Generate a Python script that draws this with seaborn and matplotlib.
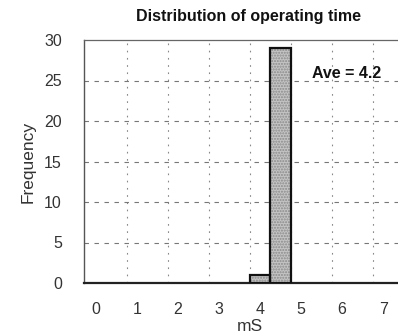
import matplotlib
matplotlib.use("Agg")
import matplotlib.pyplot as plt
import seaborn as sns

# Operating-time histogram data
bin_edges = [3.75, 4.25, 4.75]
bin_centers = [4.0, 4.5]
counts = [1, 29]
x_labels = [0, 1, 2, 3, 4, 5, 6, 7]
y_ticks = [0, 5, 10, 15, 20, 25, 30]
grid_x = [0.75, 1.75, 2.75, 3.75, 4.75, 5.75, 6.75, 7.75]
average = 4.2

sns.set_style("white")
plt.rcParams["font.family"] = ["Liberation Sans", "DejaVu Sans"]

fig = plt.figure(figsize=(3.98, 3.33), dpi=100)
W, H = 398, 333
ax = fig.add_axes([84 / W, 1 - 283 / H, (416 - 84) / W, (283 - 40) / H])
ax.set_xlim(-0.29, 7.8)
ax.set_ylim(0, 30)

# stippled fill
sns.histplot(x=bin_centers, weights=counts, bins=bin_edges, ax=ax,
             color="#c4c4c4", alpha=1, edgecolor="#8a8a8a", linewidth=0,
             hatch="......", zorder=3)
# solid outline
sns.histplot(x=bin_centers, weights=counts, bins=bin_edges, ax=ax,
             fill=False, color="#111111", linewidth=1.6, zorder=4)
for p in ax.patches[len(counts):]:
    p.set_edgecolor("#111111")

# grid
for gx in grid_x:
    ax.axvline(gx, color="#888888", lw=0.8, ls=(0, (1.5, 5)), zorder=1)
for gy in y_ticks[1:-1]:
    ax.axhline(gy, color="#777777", lw=0.8, ls=(0, (4, 5)), zorder=1)

ax.set_xticks(x_labels)
ax.set_xticklabels([str(v) for v in x_labels], fontsize=11.5, color="#333333")
ax.tick_params(axis="x", length=0, pad=14)
ax.set_xticks(grid_x, minor=True)
ax.tick_params(axis="x", which="minor", direction="in", length=4,
               width=1.0, color="#333333")

ax.set_yticks(y_ticks)
ax.set_yticklabels([str(v) for v in y_ticks], fontsize=11.5, color="#333333")
ax.tick_params(axis="y", direction="in", length=5, width=0.8,
               color="#555555", pad=16)

for side in ["left", "top", "bottom"]:
    ax.spines[side].set_visible(True)
ax.spines["right"].set_visible(False)
ax.spines["left"].set_color("#555555")
ax.spines["left"].set_linewidth(1.0)
ax.spines["top"].set_color("#666666")
ax.spines["top"].set_linewidth(0.9)
ax.spines["bottom"].set_color("#222222")
ax.spines["bottom"].set_linewidth(1.6)

ax.set_xlabel("mS", fontsize=12.5, color="#333333")
ax.xaxis.set_label_coords(0.5, (283 - 319) / 243)
ax.set_ylabel("Frequency", fontsize=12.5, color="#333333")
ax.yaxis.set_label_coords((36 - 84) / 332, 0.5)

fig.text(248 / W, 1 - 17 / H, "Distribution of operating time",
         ha="center", va="center", fontsize=11.5, fontweight="bold",
         color="#111111")
ax.text(347 / W, 1 - 74 / H, f"Ave = {average}", transform=fig.transFigure,
        ha="center", va="center", fontsize=11.5, fontweight="bold",
        color="#111111", zorder=6)

fig.savefig("out.png", dpi=100)
